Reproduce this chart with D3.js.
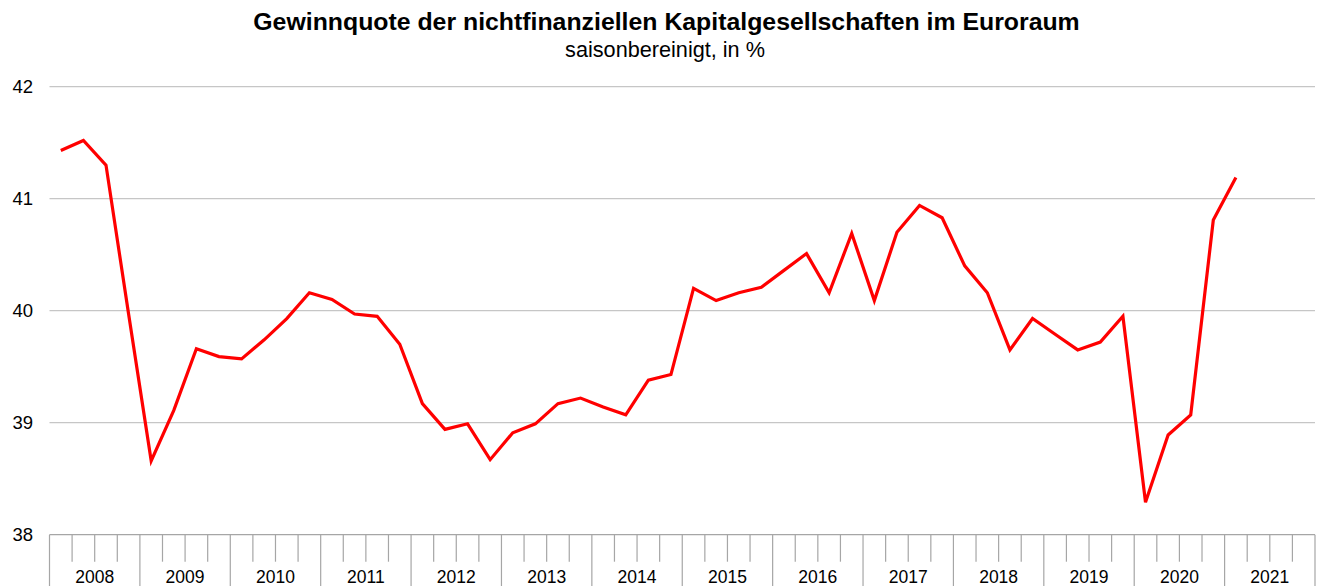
<!DOCTYPE html>
<meta charset="utf-8">
<script src="https://d3js.org/d3.v7.min.js"></script>
<style>
  body { margin: 0; background: #fff; }
  text { font-family: "Liberation Sans", Arial, sans-serif; fill: #000; }
</style>
<body>
<div id="chart"></div>
<script>

// data: quarterly values, 2008 Q1 - 2021 Q1
var years = ["2008", "2009", "2010", "2011", "2012", "2013", "2014",
             "2015", "2016", "2017", "2018", "2019", "2020", "2021"];
var quarters = ["Q1", "Q2", "Q3", "Q4"];
var values = [
  41.43, 41.52, 41.30, 39.97,   // 2008
  38.66, 39.11, 39.66, 39.59,   // 2009
  39.57, 39.74, 39.93, 40.16,   // 2010
  40.10, 39.97, 39.95, 39.70,   // 2011
  39.17, 38.94, 38.99, 38.67,   // 2012
  38.91, 38.99, 39.17, 39.22,   // 2013
  39.14, 39.07, 39.38, 39.43,   // 2014
  40.20, 40.09, 40.16, 40.21,   // 2015
  40.36, 40.51, 40.16, 40.69,   // 2016
  40.09, 40.70, 40.94, 40.83,   // 2017
  40.40, 40.16, 39.65, 39.93,   // 2018
  39.79, 39.65, 39.72, 39.95,   // 2019
  38.29, 38.89, 39.07, 40.81,   // 2020
  41.19                         // 2021
];
var yTicks = [38, 39, 40, 41, 42];

var title = "Gewinnquote der nichtfinanziellen Kapitalgesellschaften im Euroraum";
var subtitle = "saisonbereinigt, in %";

var width = 1320, height = 586;
var plotLeft = 49.5, plotRight = 1315, plotTop = 86.7, plotBottom = 534.7;

var svg = d3.select("#chart")
  .append("svg")
    .attr("width", width)
    .attr("height", height);

// all quarter slots (including the empty ones in 2021)
var slots = [];
years.forEach(function(yr) {
  quarters.forEach(function(q) { slots.push(yr + " " + q); });
});

var x = d3.scaleBand()
  .domain(slots)
  .range([plotLeft, plotRight])
  .padding(0);

var xYear = d3.scaleBand()
  .domain(years)
  .range([plotLeft, plotRight])
  .padding(0);

var y = d3.scaleLinear()
  .domain([38, 42])
  .range([plotBottom, plotTop]);

// title
var t = svg.append("text")
  .attr("x", 666.5)
  .attr("y", 30)
  .attr("text-anchor", "middle")
  .style("font-weight", "bold")
  .style("font-size", "20px")
  .text(title);
// fit title to the reference width
var tw = t.node().getComputedTextLength();
t.style("font-size", (20 * 827 / tw) + "px");

var st = svg.append("text")
  .attr("x", 665)
  .attr("y", 57)
  .attr("text-anchor", "middle")
  .style("font-size", "17px")
  .text(subtitle);
var sw = st.node().getComputedTextLength();
st.style("font-size", (17 * 200 / sw) + "px");

// gridlines
svg.append("g")
  .selectAll("line")
  .data(yTicks.filter(function(d) { return d > 38; }))
  .enter()
  .append("line")
    .attr("x1", plotLeft)
    .attr("x2", plotRight)
    .attr("y1", function(d) { return y(d); })
    .attr("y2", function(d) { return y(d); })
    .attr("stroke", "#c6c6c6")
    .attr("stroke-width", 1.2);

// y labels
svg.append("g")
  .selectAll("text")
  .data(yTicks)
  .enter()
  .append("text")
    .attr("x", 33)
    .attr("y", function(d) { return y(d); })
    .attr("dy", "0.36em")
    .attr("text-anchor", "end")
    .style("font-size", "18.5px")
    .text(function(d) { return d; });

// x axis line
svg.append("line")
  .attr("x1", plotLeft)
  .attr("x2", plotRight)
  .attr("y1", plotBottom)
  .attr("y2", plotBottom)
  .attr("stroke", "#a6a6a6")
  .attr("stroke-width", 1.2);

// quarter ticks (long at year boundaries)
var tickPos = slots.map(function(s, i) { return {x: x(s), year: i % 4 == 0}; });
tickPos.push({x: plotRight, year: true});

svg.append("g")
  .selectAll("line")
  .data(tickPos)
  .enter()
  .append("line")
    .attr("x1", function(d) { return d.x; })
    .attr("x2", function(d) { return d.x; })
    .attr("y1", plotBottom)
    .attr("y2", function(d) { return d.year ? height : plotBottom + 27; })
    .attr("stroke", "#a6a6a6")
    .attr("stroke-width", 1.2);

// year labels
svg.append("g")
  .selectAll("text")
  .data(years)
  .enter()
  .append("text")
    .attr("x", function(d) { return xYear(d) + xYear.bandwidth() / 2; })
    .attr("y", 583)
    .attr("text-anchor", "middle")
    .style("font-size", "17.5px")
    .text(function(d) { return d; });

// line
var line = d3.line()
  .x(function(d, i) { return x(slots[i]) + x.bandwidth() / 2; })
  .y(function(d) { return y(d); });

svg.append("path")
  .datum(values)
  .attr("fill", "none")
  .attr("stroke", "#ff0000")
  .attr("stroke-width", 3.2)
  .attr("stroke-linejoin", "miter")
  .attr("d", line);

</script>
</body>
